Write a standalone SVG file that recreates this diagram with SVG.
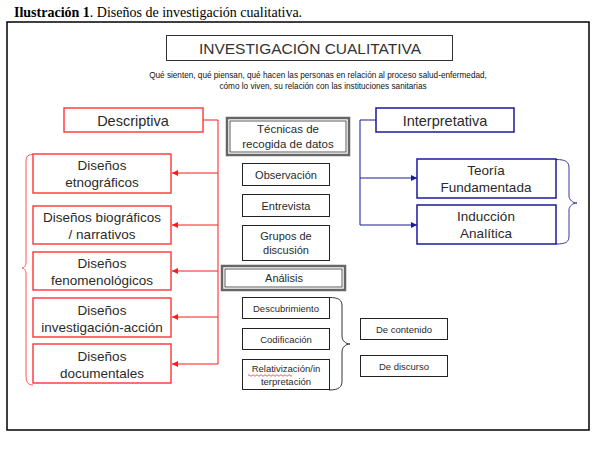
<svg xmlns="http://www.w3.org/2000/svg" width="600" height="449" viewBox="0 0 600 449">
<style>
.t{font-family:"Liberation Sans",Arial,sans-serif;fill:#2a2a2a;text-anchor:middle}
.r{fill:#fff;stroke:#ff4040;stroke-width:1.5}
.b{fill:#fff;stroke:#1a1a99;stroke-width:1.5}
.k{fill:#fff;stroke:#222;stroke-width:1}
.rl{fill:none;stroke:#ff1a1a;stroke-width:1}
.bl{fill:none;stroke:#1a1a99;stroke-width:1}
.dbo{fill:#fff;stroke:#666;stroke-width:2.5}
.dbi{fill:none;stroke:#333;stroke-width:0.8}
</style>
<defs>
<marker id="ar" viewBox="0 0 6 6" refX="6" refY="3" markerWidth="6" markerHeight="6" orient="auto" markerUnits="userSpaceOnUse"><path d="M0,0L6,3L0,6z" fill="#ff1a1a"/></marker>
<marker id="ab" viewBox="0 0 6 6" refX="6" refY="3" markerWidth="6" markerHeight="6" orient="auto" markerUnits="userSpaceOnUse"><path d="M0,0L6,3L0,6z" fill="#1a1a99"/></marker>
</defs>
<rect width="600" height="449" fill="#fff"/>
<text x="14" y="17" style="font-family:'Liberation Serif','Times New Roman',serif;font-size:14px;fill:#000"><tspan font-weight="bold">Ilustración 1</tspan>. Diseños de investigación cualitativa.</text>
<rect x="7" y="22" width="582" height="408" fill="none" stroke="#000" stroke-width="1.5"/>

<g id="title">
<rect x="166.5" y="35.5" width="286" height="25" fill="#fff" stroke="#333" stroke-width="1"/>
<text class="t" x="310" y="53.5" style="font-size:15.5px;fill:#333">INVESTIGACIÓN CUALITATIVA</text>
</g>
<g id="subtitle">
<text class="t" x="318" y="78" style="font-size:8.2px;fill:#111">Qué sienten, qué piensan, qué hacen las personas en relación al proceso salud-enfermedad,</text>
<text class="t" x="323" y="89" style="font-size:8.2px;fill:#111">cómo lo viven, su relación con las instituciones sanitarias</text>
</g>

<g id="connectors">
<path class="rl" d="M203,120H218V364"/>
<path class="rl" d="M218,173H172" marker-end="url(#ar)"/>
<path class="rl" d="M218,225H172" marker-end="url(#ar)"/>
<path class="rl" d="M218,271H172" marker-end="url(#ar)"/>
<path class="rl" d="M218,317H172" marker-end="url(#ar)"/>
<path class="rl" d="M218,364H172" marker-end="url(#ar)"/>
<path class="bl" d="M376,120H360V225"/>
<path class="bl" d="M360,178H417" marker-end="url(#ab)"/>
<path class="bl" d="M360,225H417" marker-end="url(#ab)"/>
<path fill="none" stroke="#ff5555" stroke-width="1" d="M33,154.5C26,154.5 26,158 26,164V262C26,266 24,268 22,268C24,268 26,270 26,274V375C26,382 28,385 33,385"/>
<path fill="none" stroke="#333" stroke-width="1" d="M329,297.5C339,297.5 342,300 342,306V336C342,341 346,344 350,344C346,344 342,347 342,352V381C342,387 339,390 329,390"/>
<path fill="none" stroke="#3a3a99" stroke-width="1" d="M556,159.5C566,159.5 569,162 569,168V196C569,200 573,203 577,203C573,203 569,206 569,210V236C569,242 566,244 556,244"/>
</g>

<g id="descriptiva">
<rect class="r" x="64" y="108" width="139" height="24"/>
<text class="t" x="133" y="125.5" style="font-size:14.5px">Descriptiva</text>
</g>
<g id="etnograficos">
<rect class="r" x="33" y="154" width="138" height="39"/>
<text class="t" x="102" y="170" style="font-size:13.5px">Diseños</text>
<text class="t" x="102" y="187" style="font-size:13.5px">etnográficos</text>
</g>
<g id="biograficos">
<rect class="r" x="33" y="206" width="138" height="38"/>
<text class="t" x="102" y="222" style="font-size:13.5px">Diseños biográficos</text>
<text class="t" x="102" y="239" style="font-size:13.5px">/ narrativos</text>
</g>
<g id="fenomenologicos">
<rect class="r" x="33" y="252" width="138" height="38"/>
<text class="t" x="102" y="268" style="font-size:13.5px">Diseños</text>
<text class="t" x="102" y="285" style="font-size:13.5px">fenomenológicos</text>
</g>
<g id="investigacion-accion">
<rect class="r" x="33" y="298" width="138" height="39"/>
<text class="t" x="102" y="315" style="font-size:13.5px">Diseños</text>
<text class="t" x="102" y="332" style="font-size:13.5px">investigación-acción</text>
</g>
<g id="documentales">
<rect class="r" x="33" y="344" width="138" height="39"/>
<text class="t" x="102" y="361" style="font-size:13.5px">Diseños</text>
<text class="t" x="102" y="378" style="font-size:13.5px">documentales</text>
</g>

<g id="tecnicas">
<rect class="dbo" x="227" y="118" width="122" height="37"/>
<rect class="dbi" x="230" y="121" width="116" height="31"/>
<text class="t" x="288" y="133" style="font-size:11.5px">Técnicas de</text>
<text class="t" x="288" y="148" style="font-size:11.5px">recogida de datos</text>
</g>
<g id="observacion">
<rect class="k" x="242.5" y="163.5" width="87" height="22"/>
<text class="t" x="286" y="178.5" style="font-size:11px">Observación</text>
</g>
<g id="entrevista">
<rect class="k" x="242.5" y="194.5" width="87" height="22"/>
<text class="t" x="286" y="209.5" style="font-size:11px">Entrevista</text>
</g>
<g id="grupos">
<rect class="k" x="242.5" y="225.5" width="87" height="35"/>
<text class="t" x="286" y="240" style="font-size:11px">Grupos de</text>
<text class="t" x="286" y="254" style="font-size:11px">discusión</text>
</g>
<g id="analisis">
<rect class="dbo" x="222" y="266" width="123" height="24"/>
<rect class="dbi" x="225" y="269" width="117" height="18"/>
<text class="t" x="284" y="282" style="font-size:11px">Análisis</text>
</g>
<g id="descubrimiento">
<rect class="k" x="242.5" y="297.5" width="87" height="21"/>
<text class="t" x="286" y="311.5" style="font-size:9.5px">Descubrimiento</text>
</g>
<g id="codificacion">
<rect class="k" x="242.5" y="328.5" width="87" height="21"/>
<text class="t" x="286" y="342.5" style="font-size:9.5px">Codificación</text>
</g>
<g id="relativizacion">
<rect class="k" x="242.5" y="359.5" width="87" height="30"/>
<text class="t" x="286" y="372" style="font-size:9.5px">Relativización/in</text>
<path fill="none" stroke="#e02020" stroke-width="0.7" d="M248,375.5q1,-1.5 2,0t2,0t2,0t2,0t2,0t2,0t2,0t2,0t2,0t2,0t2,0t2,0t2,0t2,0t2,0t2,0t2,0t2,0t2,0t2,0t2,0t2,0"/>
<text class="t" x="286" y="385" style="font-size:9.5px">terpretación</text>
</g>
<g id="contenido">
<rect class="k" x="360.5" y="318.5" width="87" height="21"/>
<text class="t" x="404" y="332.5" style="font-size:9.5px">De contenido</text>
</g>
<g id="discurso">
<rect class="k" x="360.5" y="355.5" width="87" height="21"/>
<text class="t" x="404" y="369.5" style="font-size:9.5px">De discurso</text>
</g>

<g id="interpretativa">
<rect class="b" x="376" y="108" width="138" height="24"/>
<text class="t" x="445" y="125.5" style="font-size:14.5px">Interpretativa</text>
</g>
<g id="teoria">
<rect class="b" x="417" y="159" width="139" height="39"/>
<text class="t" x="486" y="175" style="font-size:13.5px">Teoría</text>
<text class="t" x="486" y="192" style="font-size:13.5px">Fundamentada</text>
</g>
<g id="induccion">
<rect class="b" x="417" y="205" width="139" height="39"/>
<text class="t" x="486" y="221" style="font-size:13.5px">Inducción</text>
<text class="t" x="486" y="238" style="font-size:13.5px">Analítica</text>
</g>
</svg>
